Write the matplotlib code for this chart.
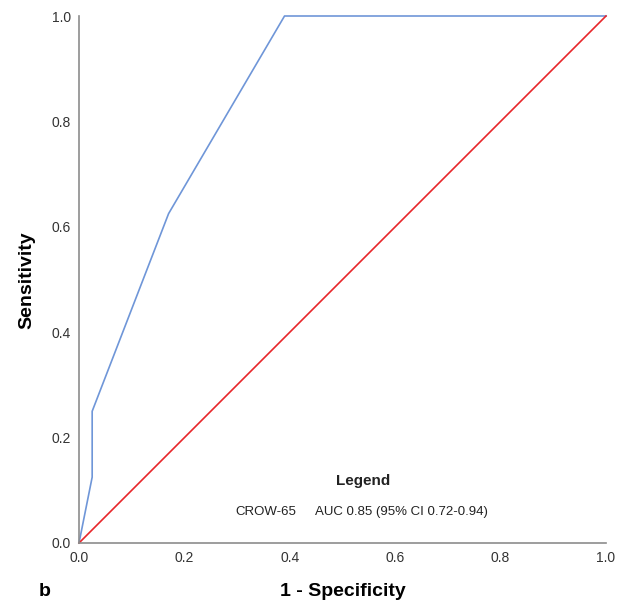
import matplotlib
matplotlib.use("Agg")
import matplotlib.pyplot as plt

plt.rcParams['font.family'] = ['Liberation Sans', 'DejaVu Sans']

fpr = [0.0, 0.025, 0.025, 0.17, 0.39, 1.0]
tpr = [0.0, 0.125, 0.25, 0.625, 1.0, 1.0]
ref = [0.0, 1.0]
ticks = [0.0, 0.2, 0.4, 0.6, 0.8, 1.0]
tick_labels = ["0.0", "0.2", "0.4", "0.6", "0.8", "1.0"]

fig = plt.figure(figsize=(6.22, 6.05), dpi=100)
ax = fig.add_axes([79/622, 62/605, 527/622, 527/605])
ax.plot(fpr, tpr, color="#6f96d8", lw=1.2, clip_on=False)
ax.plot(ref, ref, color="#e8262a", lw=1.2, clip_on=False)
ax.set_xlim(0, 1)
ax.set_ylim(0, 1)
ax.set_xticks(ticks)
ax.set_xticklabels(tick_labels)
ax.set_yticks(ticks)
ax.set_yticklabels(tick_labels)
ax.tick_params(length=0, labelsize=10, colors="#333333", pad=6)
for s in ["top", "right"]:
    ax.spines[s].set_visible(False)
for s in ["left", "bottom"]:
    ax.spines[s].set_color("#8c8c8c")
    ax.spines[s].set_linewidth(1.2)

fig.text(343/622, 1 - 591/605, "1 - Specificity", fontsize=14, fontweight="bold",
         ha="center", va="center")
fig.text(27/622, 1 - 280/605, "Sensitivity", fontsize=14, fontweight="bold",
         ha="center", va="center", rotation=90)

ax.text(0.54, 0.117, "Legend", transform=ax.transAxes, ha="center", va="center",
        fontsize=11, fontweight="bold", color="#222222")
ax.text(0.297, 0.058, "CROW-65", transform=ax.transAxes, ha="left", va="center",
        fontsize=9.5, color="#222222")
ax.text(0.448, 0.058, "AUC 0.85 (95% CI 0.72-0.94)", transform=ax.transAxes, ha="left",
        va="center", fontsize=9.5, color="#222222")

fig.text(45/622, 1 - 591/605, "b", fontsize=14, fontweight="bold", ha="center", va="center")

fig.savefig("out.png", dpi=100)
